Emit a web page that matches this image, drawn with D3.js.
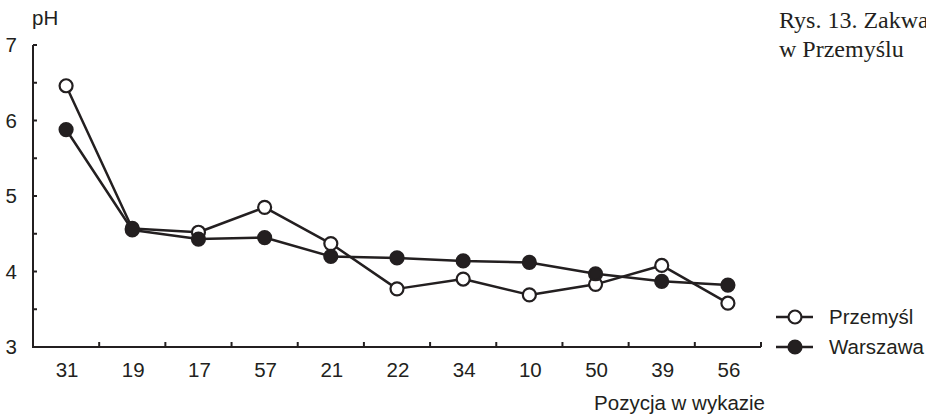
<!DOCTYPE html>
<html>
<head>
<meta charset="utf-8">
<script src="https://cdn.jsdelivr.net/npm/d3@7"></script>
<style>
  html, body { margin: 0; padding: 0; background: #fff; }
  svg { display: block; }
  text { fill: #231f20; }
</style>
</head>
<body>
<svg id="chart" width="926" height="416"></svg>
<script>
// Positions on the list (x categories)
const categories = ["31", "19", "17", "57", "21", "22", "34", "10", "50", "39", "56"];
// pH values per series
const przemysl = [6.46, 4.57, 4.52, 4.85, 4.37, 3.77, 3.90, 3.69, 3.83, 4.08, 3.58];
const warszawa = [5.88, 4.55, 4.43, 4.45, 4.20, 4.18, 4.14, 4.12, 3.97, 3.87, 3.82];
const seriesNames = ["Przemyśl", "Warszawa"];
const yTicks = [3, 3.5, 4, 4.5, 5, 5.5, 6, 6.5, 7];
const yLabels = [3, 4, 5, 6, 7];

const ink = "#231f20";
const svg = d3.select("#chart");
const m = { left: 33, right: 761, top: 45, bottom: 347 };

const x = d3.scaleBand().domain(categories).range([m.left, m.right]).padding(0);
const y = d3.scaleLinear().domain([3, 7]).range([m.bottom, m.top]);

const sans = "'Liberation Sans', Arial, Helvetica, sans-serif";
const fs = 20.5;

// Y axis line and inward ticks
const g = svg.append("g");
g.append("line").attr("x1", m.left).attr("x2", m.left)
  .attr("y1", y(7)).attr("y2", y(3))
  .attr("stroke", ink).attr("stroke-width", 2);
g.selectAll(".yt").data(yTicks).join("line")
  .attr("x1", m.left).attr("x2", m.left + 4)
  .attr("y1", d => y(d)).attr("y2", d => y(d))
  .attr("stroke", ink).attr("stroke-width", 2);
g.selectAll(".yl").data(yLabels).join("text")
  .attr("x", 17).attr("y", d => y(d) + 7)
  .attr("text-anchor", "end")
  .attr("font-family", sans).attr("font-size", fs)
  .text(d => d);
g.append("text").attr("x", 32).attr("y", 25)
  .attr("font-family", sans).attr("font-size", fs).text("pH");

// X axis line, ticks at band boundaries
g.append("line").attr("x1", m.left - 1).attr("x2", m.right)
  .attr("y1", m.bottom).attr("y2", m.bottom)
  .attr("stroke", ink).attr("stroke-width", 2);
const bounds = categories.map(c => x(c) + x.bandwidth());
g.selectAll(".xt").data(bounds).join("line")
  .attr("x1", d => d).attr("x2", d => d)
  .attr("y1", m.bottom).attr("y2", m.bottom - 5)
  .attr("stroke", ink).attr("stroke-width", 2);
g.selectAll(".xl").data(categories).join("text")
  .attr("x", d => x(d) + x.bandwidth() / 2 + 1)
  .attr("y", 377)
  .attr("text-anchor", "middle")
  .attr("font-family", sans).attr("font-size", fs)
  .text(d => d);
g.append("text").attr("x", 765).attr("y", 410)
  .attr("text-anchor", "end")
  .attr("font-family", sans).attr("font-size", fs)
  .text("Pozycja w wykazie");

// Lines and markers
const line = d3.line()
  .x((d, i) => x(categories[i]) + x.bandwidth() / 2)
  .y(d => y(d));

const series = [
  { name: seriesNames[0], values: przemysl, fill: "#fff" },
  { name: seriesNames[1], values: warszawa, fill: ink }
];

series.forEach(s => {
  svg.append("path").datum(s.values)
    .attr("d", line).attr("fill", "none")
    .attr("stroke", ink).attr("stroke-width", 2.5)
    .attr("stroke-linejoin", "round");
});
series.forEach(s => {
  svg.selectAll(null).data(s.values).join("circle")
    .attr("cx", (d, i) => x(categories[i]) + x.bandwidth() / 2)
    .attr("cy", d => y(d))
    .attr("r", 6.5)
    .attr("fill", s.fill)
    .attr("stroke", ink).attr("stroke-width", 2.2);
});

// Legend
const legY = [317, 347];
series.forEach((s, i) => {
  const lg = svg.append("g");
  lg.append("line").attr("x1", 776).attr("x2", 813)
    .attr("y1", legY[i]).attr("y2", legY[i])
    .attr("stroke", ink).attr("stroke-width", 2.5);
  lg.append("circle").attr("cx", 795).attr("cy", legY[i]).attr("r", 6.5)
    .attr("fill", s.fill).attr("stroke", ink).attr("stroke-width", 2.2);
  lg.append("text").attr("x", 829).attr("y", legY[i] + 7)
    .attr("font-family", sans).attr("font-size", fs)
    .text(s.name);
});

// Figure caption
const serif = "'Liberation Serif', 'Times New Roman', serif";
const cap = svg.append("text").attr("font-family", serif).attr("font-size", 24);
cap.append("tspan").attr("x", 779).attr("y", 28).text("Rys. 13. Zakwa");
cap.append("tspan").attr("x", 779).attr("y", 57).text("w Przemyślu");
</script>
</body>
</html>
